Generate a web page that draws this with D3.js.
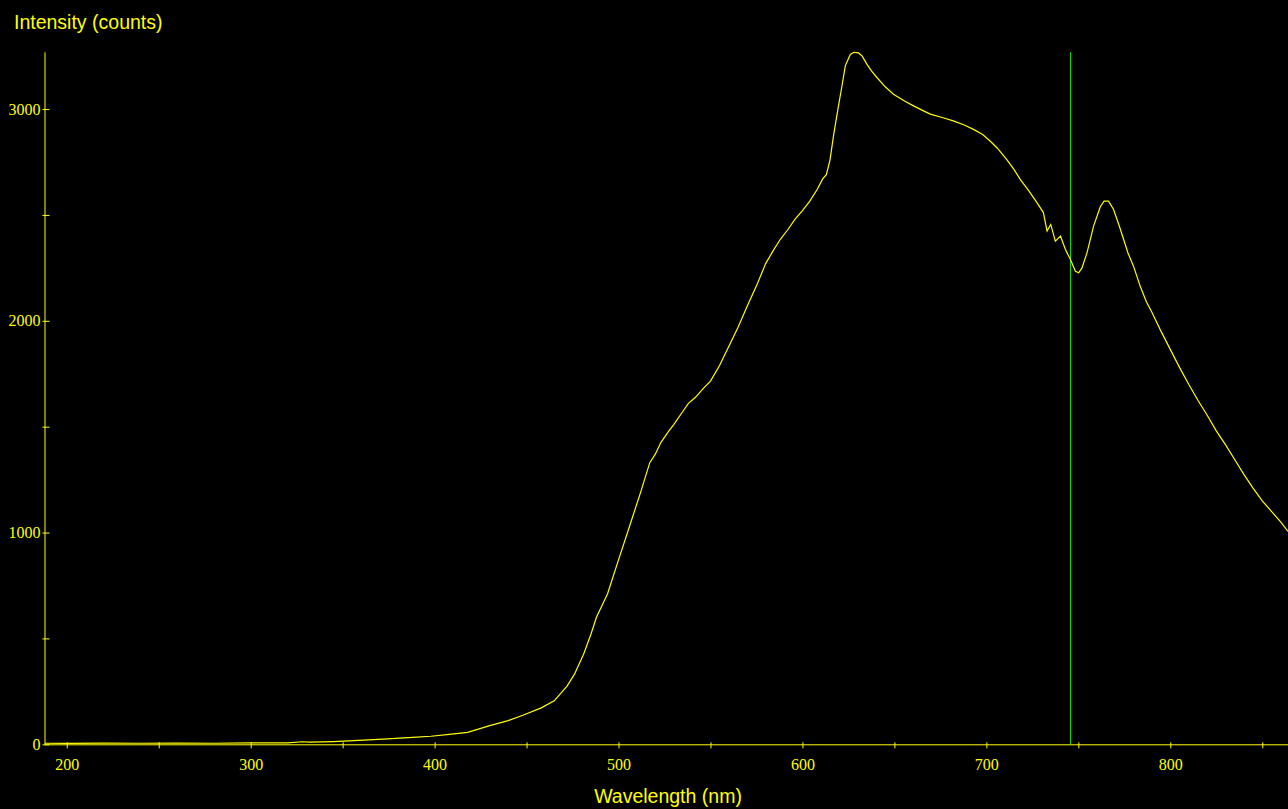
<!DOCTYPE html>
<html lang="en">
<head>
<meta charset="UTF-8">
<title>Spectrum</title>
<style>
  html, body { margin: 0; padding: 0; background: #000; }
  svg { display: block; }
</style>
</head>
<body>
<svg id="chart" width="1288" height="809"></svg>
<script src="https://d3js.org/d3.v7.min.js"></script>
<script>
// wavelength (nm) and intensity (counts)
const wavelength = [188, 200, 220, 240, 260, 280, 300, 320, 328, 332, 345, 356, 372, 388, 398, 408, 418, 430, 440, 448, 458, 465, 468, 472, 476, 481, 485, 488, 494, 500, 506, 512, 517, 520, 523, 527, 530, 534, 538, 542, 546, 550, 555, 560, 565, 570, 575, 580, 584, 588, 592, 596, 600, 604, 608, 611, 613, 615, 617, 619.6, 621.5, 623.3, 626, 628, 630.5, 632.5, 635, 637.5, 640.5, 645, 649.5, 655, 660.4, 665, 669.5, 676, 682, 688, 693, 698, 702, 706, 711, 715, 718.4, 723, 727.5, 731, 733, 735, 737.5, 740.3, 743, 745.7, 748.4, 750.2, 752, 754.7, 758.3, 762, 764, 766.4, 769.1, 772, 774.6, 777, 780, 783.6, 787, 790, 795, 800, 805, 810, 815, 820, 825, 830, 835, 840, 845, 850, 855, 860, 864];
const intensity = [5, 4, 6, 5, 6, 5, 7, 7, 12, 10, 13, 17, 24, 33, 38, 47, 56, 88, 112, 137, 172, 205, 235, 275, 330, 425, 520, 600, 710, 871, 1030, 1190, 1330, 1370, 1425, 1475, 1510, 1560, 1610, 1640, 1680, 1715, 1790, 1880, 1970, 2070, 2165, 2270, 2330, 2385, 2430, 2480, 2520, 2565, 2620, 2670, 2690, 2760, 2880, 3015, 3110, 3204, 3258, 3268, 3265, 3250, 3212, 3180, 3149, 3105, 3070, 3040, 3015, 2995, 2976, 2960, 2944, 2925, 2904, 2880, 2849, 2815, 2762, 2715, 2668, 2615, 2558, 2511, 2424, 2455, 2376, 2400, 2337, 2289, 2234, 2227, 2250, 2321, 2447, 2540, 2565, 2565, 2527, 2455, 2385, 2320, 2258, 2164, 2090, 2040, 1950, 1865, 1780, 1700, 1625, 1555, 1480, 1415, 1345, 1275, 1210, 1150, 1100, 1050, 1005];
const markerNm = 745.5;
const xTicks = [200, 300, 400, 500, 600, 700, 800];
const yTicks = [0, 1000, 2000, 3000];

const yellow = "#ffff00";
const svg = d3.select("#chart");
const plotLeft = 44.5, plotRight = 1288, plotTop = 52.3, plotBottom = 744.3;

const x = d3.scaleLinear().domain([187.9, 864]).range([plotLeft, plotRight]);
const y = d3.scaleLinear().domain([0, 3268]).range([plotBottom, plotTop]);

svg.append("rect").attr("width", 1288).attr("height", 809).attr("fill", "#000");

// x axis
const xAxis = svg.append("g")
  .attr("transform", `translate(0,${plotBottom})`)
  .call(d3.axisBottom(x).tickValues(d3.range(200, 864, 50)).tickSize(4).tickSizeOuter(0)
    .tickFormat(d => xTicks.includes(d) ? d : ""));
xAxis.select(".domain").attr("stroke", yellow).attr("d", `M${plotLeft},0.5H${plotRight}`);
xAxis.selectAll(".tick line").attr("stroke", yellow).attr("y1", -2).attr("y2", 4);
xAxis.selectAll(".tick text")
  .attr("fill", yellow).attr("font-family", "Liberation Serif, serif")
  .attr("font-size", 16).attr("dy", 0).attr("y", 26);

// y axis
const yAxis = svg.append("g")
  .attr("transform", `translate(${plotLeft},0)`)
  .call(d3.axisLeft(y).tickValues(d3.range(0, 3268, 500)).tickSize(2).tickSizeOuter(0)
    .tickFormat(d => yTicks.includes(d) ? d : ""));
yAxis.select(".domain").attr("stroke", yellow).attr("d", `M0.5,${plotTop}V${plotBottom}`);
yAxis.selectAll(".tick line").attr("stroke", yellow).attr("x1", -2).attr("x2", 5);
yAxis.selectAll(".tick text")
  .attr("fill", yellow).attr("font-family", "Liberation Serif, serif")
  .attr("font-size", 16).attr("x", -4);

// marker line
const mx = Math.round(x(markerNm)) + 0.5;
svg.append("line")
  .attr("x1", mx).attr("x2", mx)
  .attr("y1", plotTop).attr("y2", plotBottom)
  .attr("stroke", "#00e000").attr("stroke-width", 1);

// spectrum
const line = d3.line().x((d, i) => x(wavelength[i])).y(d => y(d));
svg.append("path")
  .datum(intensity)
  .attr("fill", "none")
  .attr("stroke", yellow)
  .attr("stroke-width", 1.2)
  .attr("d", line);

// titles
svg.append("text")
  .attr("x", 14).attr("y", 29)
  .attr("fill", yellow).attr("font-family", "Liberation Sans, Arial, sans-serif")
  .attr("font-size", 19.5)
  .text("Intensity (counts)");

svg.append("text")
  .attr("x", 668).attr("y", 803)
  .attr("text-anchor", "middle")
  .attr("fill", yellow).attr("font-family", "Liberation Sans, Arial, sans-serif")
  .attr("font-size", 19.5)
  .text("Wavelength (nm)");
</script>
</body>
</html>
